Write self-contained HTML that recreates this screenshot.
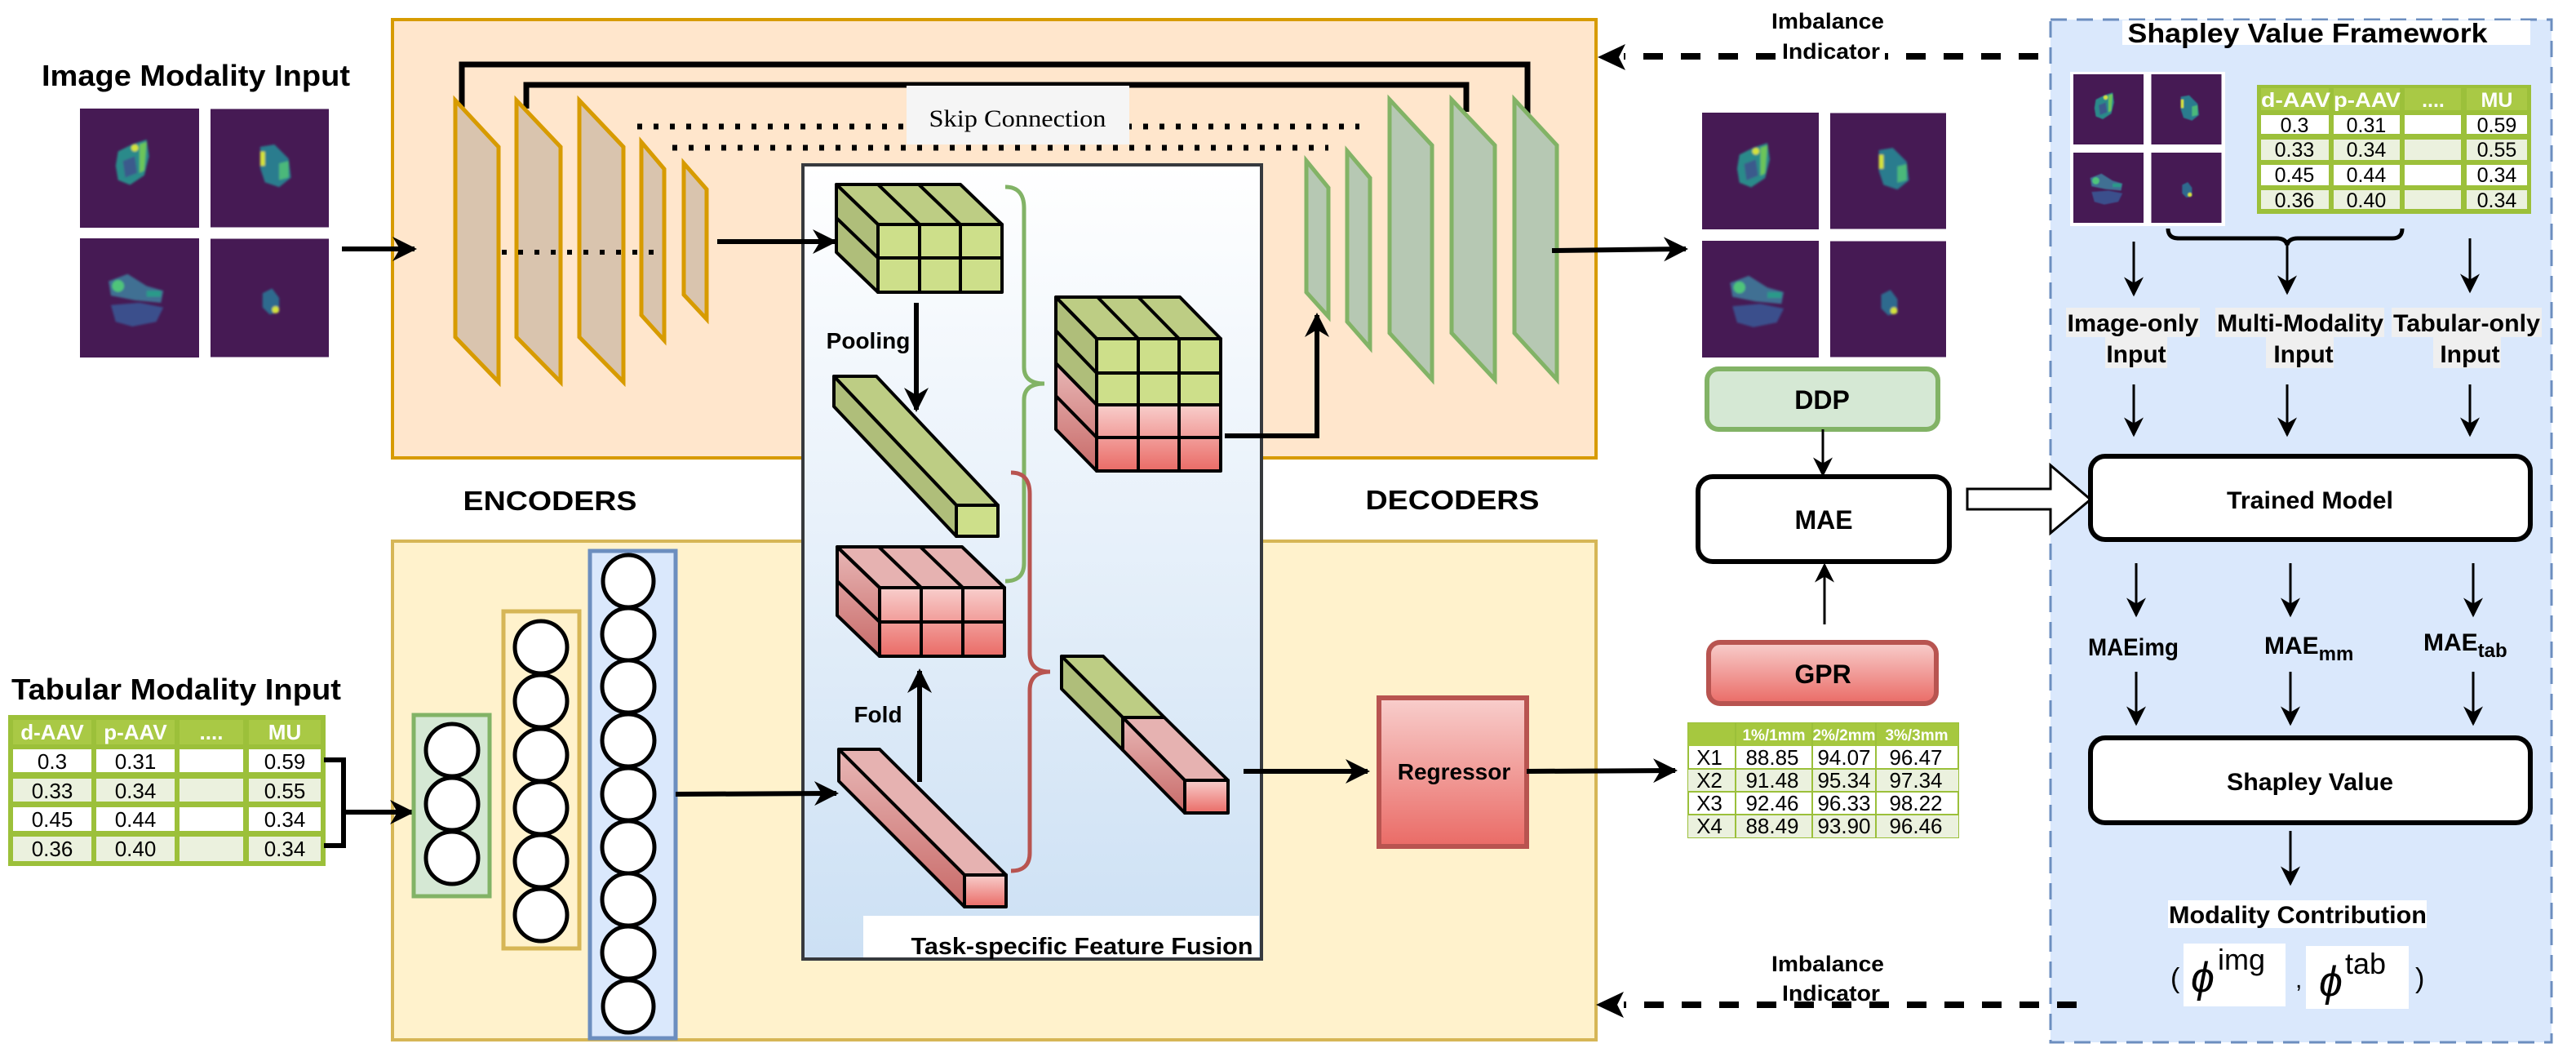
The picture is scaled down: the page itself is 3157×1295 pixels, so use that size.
<!DOCTYPE html>
<html><head><meta charset="utf-8"><style>
html,body{margin:0;padding:0;background:#fff;}
svg{display:block;}
text{font-family:"Liberation Sans Narrow","Liberation Sans",Arial,sans-serif;}
.b{font-weight:bold;}
</style></head><body>
<svg width="3157" height="1295" viewBox="0 0 3157 1295" xmlns="http://www.w3.org/2000/svg">
<defs>
<marker id="ah" viewBox="0 0 10 10" refX="9" refY="5" markerWidth="5" markerHeight="5" orient="auto" markerUnits="strokeWidth"><path d="M0,0 L10,5 L0,10 L3,5 z" fill="#000"/></marker>
<marker id="ah2" viewBox="0 0 10 10" refX="9" refY="5" markerWidth="8" markerHeight="8" orient="auto" markerUnits="strokeWidth"><path d="M0,0 L10,5 L0,10 L3,5 z" fill="#000"/></marker>
<linearGradient id="fus" x1="0" y1="0" x2="0" y2="1"><stop offset="0" stop-color="#ffffff"/><stop offset="1" stop-color="#cce0f4"/></linearGradient>
<linearGradient id="red" x1="0" y1="0" x2="0" y2="1"><stop offset="0" stop-color="#f8cecc"/><stop offset="1" stop-color="#ea6b66"/></linearGradient>
<linearGradient id="redS" x1="0" y1="0" x2="0" y2="1"><stop offset="0" stop-color="#e8b7b6"/><stop offset="1" stop-color="#c86a68"/></linearGradient>
<filter id="bl" x="-50%" y="-50%" width="200%" height="200%"><feGaussianBlur stdDeviation="1"/></filter>
<symbol id="i1" viewBox="0 0 100 100"><rect width="100" height="100" fill="#461a54"/><g filter="url(#bl)"><polygon points="32,36 44,30 56,26 58,40 54,56 42,64 32,60 30,48" fill="#2a8a8a"/><polygon points="36,44 46,40 48,54 38,58" fill="#3b5a8c"/><polygon points="50,30 56,28 54,52 50,54" fill="#6cc55a"/><circle cx="46" cy="33" r="3" fill="#d4e23a"/></g></symbol>
<symbol id="i2" viewBox="0 0 100 100"><rect width="100" height="100" fill="#461a54"/><g filter="url(#bl)"><polygon points="42,32 54,30 66,42 68,58 58,66 46,62 42,50" fill="#2b7c8e"/><polygon points="58,46 66,44 66,58 58,60" fill="#4cb87a"/><rect x="42" y="36" width="4" height="12" fill="#d4e23a"/></g></symbol>
<symbol id="i3" viewBox="0 0 100 100"><rect width="100" height="100" fill="#461a54"/><g filter="url(#bl)"><polygon points="24,36 40,30 56,40 70,44 68,54 46,52 26,48" fill="#3f6f93"/><polygon points="26,56 50,54 70,58 64,70 44,74 30,70" fill="#3b4f8c"/><circle cx="32" cy="40" r="5" fill="#4fc47a"/><rect x="56" y="44" width="12" height="5" fill="#2b9a8a"/></g></symbol>
<symbol id="i4" viewBox="0 0 100 100"><rect width="100" height="100" fill="#461a54"/><g filter="url(#bl)"><polygon points="44,46 52,42 58,50 58,62 50,64 44,58" fill="#2f6a8e"/><circle cx="55" cy="60" r="3" fill="#d4e23a"/></g></symbol>
</defs>

<text x="240" y="105" class="b" font-size="36" text-anchor="middle" textLength="378" lengthAdjust="spacingAndGlyphs">Image Modality Input</text>
<use href="#i1" x="98" y="133" width="146" height="146"/>
<use href="#i2" x="258" y="133" width="145" height="146"/>
<use href="#i3" x="98" y="292" width="146" height="146"/>
<use href="#i4" x="258" y="292" width="145" height="146"/>

<rect x="481" y="24" width="1475" height="537" fill="#ffe6cc" stroke="#d79b00" stroke-width="4"/>
<rect x="481" y="663" width="1475" height="611" fill="#fff2cc" stroke="#d6b656" stroke-width="4"/>

<path d="M566,133 V79 H1872 V142" fill="none" stroke="#000" stroke-width="7"/>
<path d="M645,133 V104 H1797 V137" fill="none" stroke="#000" stroke-width="7"/>
<line x1="781" y1="155" x2="1666" y2="155" stroke="#000" stroke-width="7" stroke-dasharray="6 14"/>
<line x1="824" y1="181" x2="1628" y2="181" stroke="#000" stroke-width="7" stroke-dasharray="6 14"/>
<rect x="1111" y="105" width="273" height="72" fill="#f5f5f5"/>
<text x="1247" y="155" font-size="30" text-anchor="middle" style="font-family:'Liberation Serif',serif" textLength="217" lengthAdjust="spacingAndGlyphs">Skip Connection</text>

<g fill="#d9c4ae" stroke="#d79b00" stroke-width="5">
<polygon points="558,123 611,180 611,468 558,413"/>
<polygon points="633,123 687,180 687,468 633,413"/>
<polygon points="710,123 764,180 764,468 710,413"/>
<polygon points="786,174 814,207 814,417 786,386"/>
<polygon points="838,200 866,232 866,391 838,361"/>
</g>
<line x1="615" y1="309" x2="805" y2="309" stroke="#000" stroke-width="6" stroke-dasharray="6 14"/>

<g fill="#b6c8b3" stroke="#82b366" stroke-width="5">
<polygon points="1601,197 1628,230 1628,388 1601,358"/>
<polygon points="1651,185 1679,218 1679,426 1651,394"/>
<polygon points="1703,122 1755,178 1755,465 1703,408"/>
<polygon points="1779,122 1832,178 1832,465 1779,408"/>
<polygon points="1856,122 1908,178 1908,465 1856,408"/>
</g>

<text x="674" y="625" class="b" font-size="33" text-anchor="middle" textLength="213" lengthAdjust="spacingAndGlyphs">ENCODERS</text>
<text x="1780" y="624" class="b" font-size="33" text-anchor="middle" textLength="213" lengthAdjust="spacingAndGlyphs">DECODERS</text>

<text x="216" y="857" class="b" font-size="36" text-anchor="middle" textLength="404" lengthAdjust="spacingAndGlyphs">Tabular Modality Input</text>
<rect x="10" y="876" width="389" height="185" fill="#9cc03a"/>
<g fill="#a9c945">
<rect x="16" y="882" width="96" height="30"/><rect x="118" y="882" width="96" height="30"/><rect x="220" y="882" width="78" height="30"/><rect x="305" y="882" width="88" height="30"/>
</g>
<g fill="#fff"><rect x="16" y="918" width="96" height="28"/><rect x="118" y="918" width="96" height="28"/><rect x="220" y="918" width="78" height="28"/><rect x="305" y="918" width="88" height="28"/>
<rect x="16" y="989" width="96" height="29"/><rect x="118" y="989" width="96" height="29"/><rect x="220" y="989" width="78" height="29"/><rect x="305" y="989" width="88" height="29"/></g>
<g fill="#ebf1de"><rect x="16" y="954" width="96" height="28"/><rect x="118" y="954" width="96" height="28"/><rect x="220" y="954" width="78" height="28"/><rect x="305" y="954" width="88" height="28"/>
<rect x="16" y="1025" width="96" height="30"/><rect x="118" y="1025" width="96" height="30"/><rect x="220" y="1025" width="78" height="30"/><rect x="305" y="1025" width="88" height="30"/></g>
<g font-size="26" text-anchor="middle" class="b" fill="#fff"><text x="64" y="906">d-AAV</text><text x="166" y="906">p-AAV</text><text x="259" y="906">....</text><text x="349" y="906">MU</text></g>
<g font-size="26" text-anchor="middle" fill="#000">
<text x="64" y="942">0.3</text><text x="166" y="942">0.31</text><text x="349" y="942">0.59</text>
<text x="64" y="978">0.33</text><text x="166" y="978">0.34</text><text x="349" y="978">0.55</text>
<text x="64" y="1013">0.45</text><text x="166" y="1013">0.44</text><text x="349" y="1013">0.34</text>
<text x="64" y="1049">0.36</text><text x="166" y="1049">0.40</text><text x="349" y="1049">0.34</text>
</g>
<path d="M397,931 H421 V1036 H397" fill="none" stroke="#000" stroke-width="6"/>
<line x1="421" y1="995" x2="505" y2="995" stroke="#000" stroke-width="6" marker-end="url(#ah)"/>

<rect x="507" y="876" width="93" height="222" fill="#d5e8d4" stroke="#82b366" stroke-width="5"/>
<rect x="617" y="749" width="93" height="413" fill="#fff2cc" stroke="#d6b656" stroke-width="5"/>
<rect x="723" y="675" width="105" height="597" fill="#dae8fc" stroke="#6c8ebf" stroke-width="5"/>
<g fill="#fff" stroke="#000" stroke-width="5">
<ellipse cx="554" cy="919" rx="32" ry="32"/><ellipse cx="554" cy="985" rx="32" ry="32"/><ellipse cx="554" cy="1051" rx="32" ry="32"/>
<ellipse cx="663" cy="793" rx="32" ry="32"/><ellipse cx="663" cy="859" rx="32" ry="32"/><ellipse cx="663" cy="925" rx="32" ry="32"/><ellipse cx="663" cy="990" rx="32" ry="32"/><ellipse cx="663" cy="1055" rx="32" ry="32"/><ellipse cx="663" cy="1121" rx="32" ry="32"/>
<ellipse cx="770" cy="712" rx="31" ry="32"/><ellipse cx="770" cy="777" rx="32" ry="32"/><ellipse cx="770" cy="841" rx="32" ry="32"/><ellipse cx="770" cy="907" rx="32" ry="32"/><ellipse cx="770" cy="973" rx="32" ry="32"/><ellipse cx="770" cy="1038" rx="32" ry="32"/><ellipse cx="770" cy="1102" rx="32" ry="32"/><ellipse cx="770" cy="1167" rx="32" ry="32"/><ellipse cx="770" cy="1233" rx="31" ry="32"/>
</g>

<line x1="419" y1="305" x2="508" y2="305" stroke="#000" stroke-width="6" marker-end="url(#ah)"/>

<rect x="984" y="202" width="562" height="973" fill="url(#fus)" stroke="#36393d" stroke-width="4"/>
<rect x="1058" y="1122" width="485" height="51" fill="#fff"/>
<text x="1326" y="1169" class="b" font-size="29" text-anchor="middle" textLength="419" lengthAdjust="spacingAndGlyphs">Task-specific Feature Fusion</text>

<line x1="879" y1="296" x2="1023" y2="296" stroke="#000" stroke-width="6" marker-end="url(#ah)"/>
<line x1="828" y1="973" x2="1025" y2="972" stroke="#000" stroke-width="6" marker-end="url(#ah)"/>

<g stroke="#000" stroke-width="4" stroke-linejoin="round">
<polygon points="1025,226 1177,226 1228,275 1076,275" fill="#bdcd84"/>
<polygon points="1025,226 1076,275 1076,358 1025,309" fill="#afbe7a"/>
<rect x="1076" y="275" width="152" height="83" fill="#cddf8a"/>
<path d="M1127,275 V358 M1177,275 V358 M1076,316 H1228 M1076,226 L1127,275 M1126,226 L1177,275 M1025,267 L1076,316" fill="none"/>
<polygon points="1022,461 1074,461 1223,619 1172,619" fill="#bdcd84"/>
<polygon points="1022,461 1172,619 1172,657 1022,498" fill="#afbe7a"/>
<rect x="1172" y="619" width="51" height="38" fill="#cddf8a"/>
<polygon points="1026,670 1179,670 1231,720 1078,720" fill="#e6b2b1"/>
<polygon points="1026,670 1078,720 1078,804 1026,754" fill="url(#redS)"/>
<rect x="1078" y="720" width="153" height="84" fill="url(#red)"/>
<path d="M1129,720 V804 M1180,720 V804 M1078,762 H1231 M1026,670 L1078,720 M1077,670 L1129,720 M1128,670 L1180,720 M1026,712 L1078,762" fill="none"/>
<polygon points="1028,918 1078,918 1233,1072 1182,1072" fill="#e6b2b1"/>
<polygon points="1028,918 1182,1072 1182,1111 1028,957" fill="url(#redS)"/>
<rect x="1182" y="1072" width="51" height="39" fill="url(#red)"/>
<polygon points="1294,364 1446,364 1496,415 1344,415" fill="#bdcd84"/>
<polygon points="1294,364 1344,415 1344,496 1294,445" fill="#afbe7a"/>
<polygon points="1294,445 1344,496 1344,577 1294,526" fill="url(#redS)"/>
<rect x="1344" y="415" width="152" height="81" fill="#cddf8a"/>
<rect x="1344" y="496" width="152" height="81" fill="url(#red)"/>
<path d="M1395,415 V577 M1445,415 V577 M1344,457 H1496 M1344,536 H1496 M1294,364 L1344,415 M1345,364 L1395,415 M1395,364 L1445,415 M1294,405 L1344,457 M1294,485 L1344,536" fill="none"/>
<polygon points="1301,804 1352,804 1427,879 1376,879" fill="#bdcd84"/>
<polygon points="1301,804 1376,879 1376,919 1301,844" fill="#afbe7a"/>
<polygon points="1376,879 1427,879 1505,956 1452,956" fill="#e6b2b1"/>
<polygon points="1376,879 1452,956 1452,996 1376,919" fill="url(#redS)"/>
<rect x="1452" y="956" width="53" height="40" fill="url(#red)"/>
</g>

<path d="M1232,229 Q1255,229 1255,255 L1255,450 Q1255,470 1280,470 Q1255,470 1255,490 L1255,690 Q1255,712 1232,712" fill="none" stroke="#82b366" stroke-width="5"/>
<path d="M1239,579 Q1262,579 1262,605 L1262,800 Q1262,823 1287,823 Q1262,823 1262,846 L1262,1045 Q1262,1067 1239,1067" fill="none" stroke="#b85450" stroke-width="5"/>

<text x="1064" y="427" class="b" font-size="28" text-anchor="middle" style="font-family:'Liberation Sans',sans-serif">Pooling</text>
<text x="1076" y="885" class="b" font-size="28" text-anchor="middle" style="font-family:'Liberation Sans',sans-serif">Fold</text>
<line x1="1123" y1="371" x2="1123" y2="502" stroke="#000" stroke-width="6" marker-end="url(#ah)"/>
<line x1="1127" y1="958" x2="1127" y2="822" stroke="#000" stroke-width="6" marker-end="url(#ah)"/>

<path d="M1501,534 H1614 V386" fill="none" stroke="#000" stroke-width="6" marker-end="url(#ah)"/>
<line x1="1524" y1="945" x2="1676" y2="945" stroke="#000" stroke-width="6" marker-end="url(#ah)"/>

<rect x="1690" y="855" width="181" height="182" fill="url(#red)" stroke="#b85450" stroke-width="6"/>
<text x="1782" y="955" class="b" font-size="28" text-anchor="middle" style="font-family:'Liberation Sans',sans-serif">Regressor</text>
<line x1="1871" y1="945" x2="2053" y2="944" stroke="#000" stroke-width="6" marker-end="url(#ah)"/>

<line x1="1902" y1="307" x2="2066" y2="305" stroke="#000" stroke-width="6" marker-end="url(#ah)"/>
<use href="#i1" x="2086" y="138" width="143" height="143"/>
<use href="#i2" x="2243" y="138" width="142" height="143"/>
<use href="#i3" x="2086" y="295" width="143" height="143"/>
<use href="#i4" x="2243" y="295" width="142" height="143"/>

<rect x="2092" y="452" width="283" height="74" rx="14" fill="#d5e8d4" stroke="#82b366" stroke-width="6"/>
<text x="2233" y="501" class="b" font-size="32" text-anchor="middle">DDP</text>
<line x1="2234" y1="526" x2="2234" y2="582" stroke="#000" stroke-width="3" marker-end="url(#ah2)"/>
<rect x="2081" y="584" width="308" height="104" rx="18" fill="#fff" stroke="#000" stroke-width="6"/>
<text x="2235" y="648" class="b" font-size="32" text-anchor="middle">MAE</text>
<line x1="2236" y1="765" x2="2236" y2="692" stroke="#000" stroke-width="3" marker-end="url(#ah2)"/>
<rect x="2094" y="787" width="279" height="75" rx="14" fill="url(#red)" stroke="#b85450" stroke-width="6"/>
<text x="2234" y="837" class="b" font-size="32" text-anchor="middle">GPR</text>

<rect x="2069" y="886" width="331" height="140" fill="#fff" stroke="#9bc03a" stroke-width="2"/>
<rect x="2069" y="886" width="331" height="28" fill="#a6c83f"/>
<rect x="2069" y="942" width="331" height="28" fill="#ebf1de"/>
<rect x="2069" y="998" width="331" height="28" fill="#ebf1de"/>
<g stroke="#9bc03a" stroke-width="2"><path d="M2069,942 H2400 M2069,970 H2400 M2069,998 H2400 M2127,886 V1026 M2221,886 V1026 M2299,886 V1026"/></g>
<g class="b" font-size="19" fill="#fff" text-anchor="middle"><text x="2174" y="907">1%/1mm</text><text x="2260" y="907">2%/2mm</text><text x="2349" y="907">3%/3mm</text></g>
<g font-size="26" text-anchor="middle">
<text x="2095" y="937">X1</text><text x="2172" y="937">88.85</text><text x="2260" y="937">94.07</text><text x="2348" y="937">96.47</text>
<text x="2095" y="965">X2</text><text x="2172" y="965">91.48</text><text x="2260" y="965">95.34</text><text x="2348" y="965">97.34</text>
<text x="2095" y="993">X3</text><text x="2172" y="993">92.46</text><text x="2260" y="993">96.33</text><text x="2348" y="993">98.22</text>
<text x="2095" y="1021">X4</text><text x="2172" y="1021">88.49</text><text x="2260" y="1021">93.90</text><text x="2348" y="1021">96.46</text>
</g>

<rect x="2513" y="24" width="614" height="1253" fill="#dae8fc" stroke="#6c8ebf" stroke-width="3" stroke-dasharray="20 12"/>
<rect x="2601" y="25" width="500" height="30" fill="#fff"/>
<text x="2828" y="52" class="b" font-size="33" text-anchor="middle" textLength="441" lengthAdjust="spacingAndGlyphs">Shapley Value Framework</text>

<rect x="2537" y="88" width="190" height="189" fill="#fff"/>
<use href="#i1" x="2541" y="91" width="86" height="86"/>
<use href="#i2" x="2636" y="91" width="87" height="86"/>
<use href="#i3" x="2541" y="187" width="86" height="86"/>
<use href="#i4" x="2636" y="187" width="87" height="86"/>

<rect x="2766" y="104" width="336" height="158" fill="#9cc03a"/>
<g fill="#a9c945"><rect x="2771" y="108" width="83" height="27"/><rect x="2860" y="108" width="81" height="27"/><rect x="2947" y="108" width="69" height="27"/><rect x="3023" y="108" width="74" height="27"/></g>
<g fill="#fff"><rect x="2771" y="141" width="83" height="23"/><rect x="2860" y="141" width="81" height="23"/><rect x="2947" y="141" width="69" height="23"/><rect x="3023" y="141" width="74" height="23"/>
<rect x="2771" y="202" width="83" height="25"/><rect x="2860" y="202" width="81" height="25"/><rect x="2947" y="202" width="69" height="25"/><rect x="3023" y="202" width="74" height="25"/></g>
<g fill="#ebf1de"><rect x="2771" y="171" width="83" height="25"/><rect x="2860" y="171" width="81" height="25"/><rect x="2947" y="171" width="69" height="25"/><rect x="3023" y="171" width="74" height="25"/>
<rect x="2771" y="233" width="83" height="23"/><rect x="2860" y="233" width="81" height="23"/><rect x="2947" y="233" width="69" height="23"/><rect x="3023" y="233" width="74" height="23"/></g>
<g class="b" font-size="25" fill="#fff" style="font-family:'Liberation Sans',sans-serif"><text x="2771" y="131" textLength="85" lengthAdjust="spacingAndGlyphs">d-AAV</text><text x="2860" y="131" textLength="82" lengthAdjust="spacingAndGlyphs">p-AAV</text><text x="2982" y="131" text-anchor="middle">....</text><text x="3060" y="131" text-anchor="middle">MU</text></g>
<g font-size="25" text-anchor="middle" style="font-family:'Liberation Sans',sans-serif">
<text x="2812" y="162">0.3</text><text x="2900" y="162">0.31</text><text x="3060" y="162">0.59</text>
<text x="2812" y="192">0.33</text><text x="2900" y="192">0.34</text><text x="3060" y="192">0.55</text>
<text x="2812" y="223">0.45</text><text x="2900" y="223">0.44</text><text x="3060" y="223">0.34</text>
<text x="2812" y="254">0.36</text><text x="2900" y="254">0.40</text><text x="3060" y="254">0.34</text>
</g>
<path d="M2657,280 Q2657,292 2670,292 L2790,292 Q2801,292 2803,300 Q2805,292 2816,292 L2932,292 Q2944,292 2944,280" fill="none" stroke="#000" stroke-width="5"/>

<g stroke="#000" stroke-width="3">
<line x1="2615" y1="296" x2="2615" y2="361" marker-end="url(#ah2)"/>
<line x1="2803" y1="294" x2="2803" y2="359" marker-end="url(#ah2)"/>
<line x1="3027" y1="292" x2="3027" y2="357" marker-end="url(#ah2)"/>
<line x1="2615" y1="471" x2="2615" y2="533" marker-end="url(#ah2)"/>
<line x1="2803" y1="471" x2="2803" y2="533" marker-end="url(#ah2)"/>
<line x1="3027" y1="471" x2="3027" y2="533" marker-end="url(#ah2)"/>
<line x1="2618" y1="690" x2="2618" y2="754" marker-end="url(#ah2)"/>
<line x1="2807" y1="690" x2="2807" y2="754" marker-end="url(#ah2)"/>
<line x1="3031" y1="690" x2="3031" y2="754" marker-end="url(#ah2)"/>
<line x1="2618" y1="823" x2="2618" y2="887" marker-end="url(#ah2)"/>
<line x1="2807" y1="823" x2="2807" y2="887" marker-end="url(#ah2)"/>
<line x1="3031" y1="823" x2="3031" y2="887" marker-end="url(#ah2)"/>
<line x1="2807" y1="1018" x2="2807" y2="1083" marker-end="url(#ah2)"/>
</g>

<g fill="#efefef"><rect x="2532" y="377" width="164" height="36"/><rect x="2580" y="413" width="76" height="38"/>
<rect x="2715" y="377" width="207" height="36"/><rect x="2777" y="413" width="83" height="38"/>
<rect x="2931" y="377" width="184" height="36"/><rect x="2982" y="413" width="83" height="38"/></g>
<g class="b" font-size="30" text-anchor="middle">
<text x="2614" y="406" textLength="161" lengthAdjust="spacingAndGlyphs">Image-only</text>
<text x="2618" y="444">Input</text>
<text x="2819" y="406" textLength="204" lengthAdjust="spacingAndGlyphs">Multi-Modality</text>
<text x="2823" y="444">Input</text>
<text x="3023" y="406" textLength="180" lengthAdjust="spacingAndGlyphs">Tabular-only</text>
<text x="3027" y="444">Input</text>
</g>

<polygon points="2411,599 2513,599 2513,570 2562,612 2513,653 2513,624 2411,624" fill="#fff" stroke="#000" stroke-width="3"/>
<rect x="2562" y="559" width="539" height="102" rx="18" fill="#fff" stroke="#000" stroke-width="6"/>
<text x="2831" y="623" class="b" font-size="30" text-anchor="middle" textLength="204" lengthAdjust="spacingAndGlyphs">Trained Model</text>

<g class="b" font-size="30">
<text x="2559" y="803" textLength="111" lengthAdjust="spacingAndGlyphs">MAEimg</text>
<text x="2775" y="801">MAE<tspan font-size="24" dy="8">mm</tspan></text>
<text x="2970" y="797">MAE<tspan font-size="24" dy="8">tab</tspan></text>
</g>

<rect x="2562" y="904" width="539" height="104" rx="18" fill="#fff" stroke="#000" stroke-width="6"/>
<text x="2831" y="968" class="b" font-size="30" text-anchor="middle" textLength="204" lengthAdjust="spacingAndGlyphs">Shapley Value</text>

<rect x="2657" y="1103" width="317" height="34" fill="#fff"/>
<text x="2816" y="1131" class="b" font-size="30" text-anchor="middle" textLength="316" lengthAdjust="spacingAndGlyphs">Modality Contribution</text>
<rect x="2676" y="1156" width="125" height="77" fill="#fff"/>
<rect x="2826" y="1159" width="126" height="77" fill="#fff"/>
<g style="font-family:'Liberation Serif',serif">
<text x="2660" y="1210" font-size="34">(</text>
<text x="2685" y="1215" font-size="52" font-style="italic">ϕ</text>
<text x="2718" y="1188" font-size="36">img</text>
<text x="2813" y="1210" font-size="30">,</text>
<text x="2842" y="1220" font-size="52" font-style="italic">ϕ</text>
<text x="2874" y="1193" font-size="36">tab</text>
<text x="2960" y="1210" font-size="34">)</text>
</g>

<line x1="2498" y1="69" x2="1990" y2="69" stroke="#000" stroke-width="8" stroke-dasharray="24 22"/>
<polygon points="1958,70 1992,54 1984,70 1992,86" fill="#000"/>
<rect x="2182" y="44" width="128" height="36" fill="#fff"/>
<g class="b" font-size="27" text-anchor="middle"><text x="2240" y="35" textLength="138" lengthAdjust="spacingAndGlyphs">Imbalance</text><text x="2244" y="72" textLength="120" lengthAdjust="spacingAndGlyphs">Indicator</text></g>

<line x1="2545" y1="1231" x2="1990" y2="1231" stroke="#000" stroke-width="8" stroke-dasharray="24 22"/>
<polygon points="1956,1231 1990,1215 1982,1231 1990,1247" fill="#000"/>
<rect x="2182" y="1198" width="128" height="28" fill="#fff"/>
<g class="b" font-size="27" text-anchor="middle"><text x="2240" y="1190" textLength="138" lengthAdjust="spacingAndGlyphs">Imbalance</text><text x="2244" y="1226" textLength="120" lengthAdjust="spacingAndGlyphs">Indicator</text></g>
</svg>
</body></html>
